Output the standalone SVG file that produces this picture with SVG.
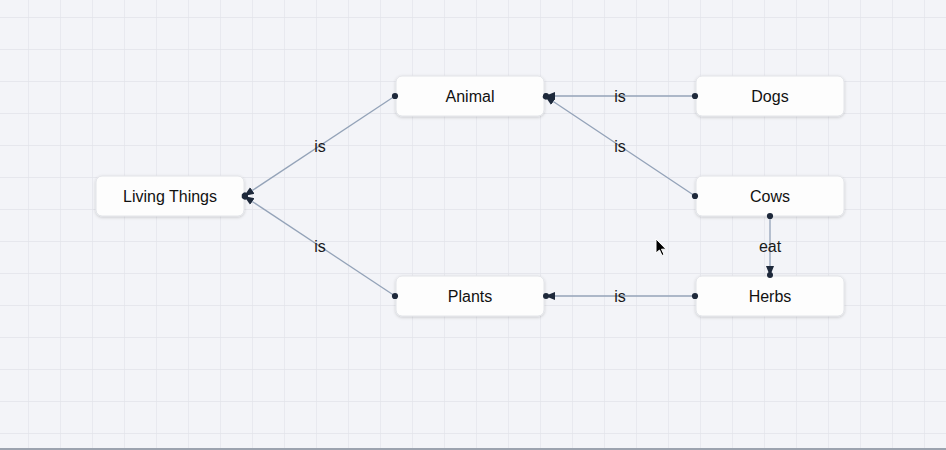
<svg xmlns="http://www.w3.org/2000/svg" width="946" height="450" viewBox="0 0 946 450">
<defs>
<pattern id="grid" x="28" y="17" width="32" height="32" patternUnits="userSpaceOnUse">
<path d="M0 0H32M0 0V32" fill="none" stroke="#e2e4ea" stroke-width="1.3"/>
</pattern>
<filter id="sh" x="-10%" y="-20%" width="120%" height="150%">
<feDropShadow dx="0" dy="1" stdDeviation="1.5" flood-color="#000" flood-opacity="0.18"/>
</filter>
<marker id="dot" viewBox="0 0 8 8" refX="4" refY="4" markerWidth="8" markerHeight="8" markerUnits="userSpaceOnUse">
<circle cx="4" cy="4" r="3.1" fill="#1e293b"/>
</marker>
<marker id="arr" viewBox="0 0 12 12" refX="10" refY="6" markerWidth="12" markerHeight="12" orient="auto" markerUnits="userSpaceOnUse">
<path d="M0 2L10 6L0 10z" fill="#1e293b"/>
<circle cx="9" cy="6" r="3" fill="#1e293b"/>
</marker>
</defs>
<style>
.node rect{fill:#fdfdfd;stroke:#e2e4e8;stroke-width:1;filter:url(#sh)}
.node text{font-family:"Liberation Sans",Arial,sans-serif;font-size:16px;fill:#111;text-anchor:middle;dominant-baseline:central}
.edge{stroke:#94a3b8;stroke-width:1.3;fill:none;marker-start:url(#dot);marker-end:url(#arr)}
.lbl{font-family:"Liberation Sans",Arial,sans-serif;font-size:16px;fill:#1a1a1a;text-anchor:middle;dominant-baseline:central}
</style>
<rect width="946" height="450" fill="#f3f4f8"/>
<rect width="946" height="450" fill="url(#grid)"/>
<rect x="0" y="448" width="946" height="2" fill="#9ca3af"/>
<g id="living" class="node"><rect x="96" y="176" width="148" height="40" rx="6"/><text x="170" y="196">Living Things</text></g>
<g id="animal" class="node"><rect x="396" y="76" width="148" height="40" rx="6"/><text x="470" y="96">Animal</text></g>
<g id="dogs" class="node"><rect x="696" y="76" width="148" height="40" rx="6"/><text x="770" y="96">Dogs</text></g>
<g id="cows" class="node"><rect x="696" y="176" width="148" height="40" rx="6"/><text x="770" y="196">Cows</text></g>
<g id="plants" class="node"><rect x="396" y="276" width="148" height="40" rx="6"/><text x="470" y="296">Plants</text></g>
<g id="herbs" class="node"><rect x="696" y="276" width="148" height="40" rx="6"/><text x="770" y="296">Herbs</text></g>
<g id="connectors">
<path class="edge" d="M395 96L244 196"/>
<path class="edge" d="M695 96L545 96"/>
<path class="edge" d="M695 196L545 96"/>
<path class="edge" d="M395 296L244 196"/>
<path class="edge" d="M695 296L545 296"/>
<path class="edge" d="M770 216L770 276"/>
<text class="lbl" x="320" y="146">is</text>
<text class="lbl" x="620" y="96">is</text>
<text class="lbl" x="620" y="146">is</text>
<text class="lbl" x="320" y="246">is</text>
<text class="lbl" x="620" y="296">is</text>
<text class="lbl" x="770" y="246">eat</text>
</g>
<path d="M656 239L656 253L659.5 250L662 255.5L664 254.5L661.5 249.2L666 249.2Z" fill="#000" stroke="#fff" stroke-width="1"/>
</svg>
